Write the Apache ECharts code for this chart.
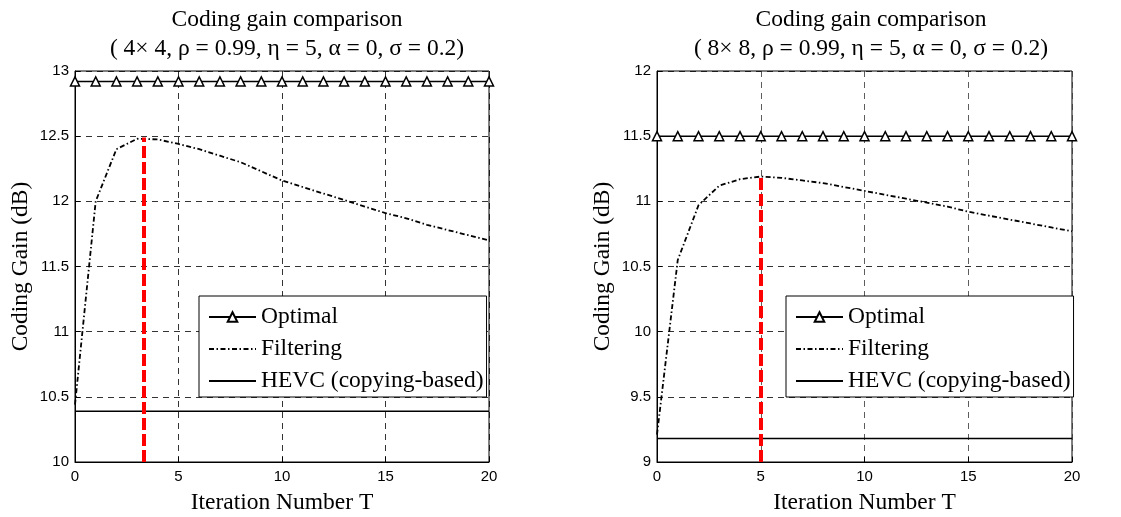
<!DOCTYPE html>
<html><head><meta charset="utf-8">
<script src="https://cdn.jsdelivr.net/npm/echarts@6/dist/echarts.min.js"></script>
<style>html,body{margin:0;padding:0;background:#fff}#c{width:1121px;height:517px}</style>
</head><body><div id="c"></div>
<script>
const iterT = [0,1,2,3,4,5,6,7,8,9,10,11,12,13,14,15,16,17,18,19,20];
const optimalL = [12.92,12.92,12.92,12.92,12.92,12.92,12.92,12.92,12.92,12.92,12.92,12.92,12.92,12.92,12.92,12.92,12.92,12.92,12.92,12.92,12.92];
const filteringL = [10.44,12.0,12.40,12.48,12.475,12.44,12.40,12.35,12.30,12.23,12.16,12.11,12.06,12.01,11.96,11.91,11.87,11.82,11.78,11.74,11.70];
const hevcL = [10.39,10.39,10.39,10.39,10.39,10.39,10.39,10.39,10.39,10.39,10.39,10.39,10.39,10.39,10.39,10.39,10.39,10.39,10.39,10.39,10.39];
const optimalR = [11.5,11.5,11.5,11.5,11.5,11.5,11.5,11.5,11.5,11.5,11.5,11.5,11.5,11.5,11.5,11.5,11.5,11.5,11.5,11.5,11.5];
const filteringR = [9.21,10.55,10.97,11.12,11.17,11.19,11.18,11.16,11.14,11.11,11.08,11.05,11.02,10.99,10.96,10.92,10.89,10.86,10.83,10.80,10.77];
const hevcR = [9.18,9.18,9.18,9.18,9.18,9.18,9.18,9.18,9.18,9.18,9.18,9.18,9.18,9.18,9.18,9.18,9.18,9.18,9.18,9.18,9.18];
const peakT = [3.3, 5];
const peakVal = [12.49, 11.2];
const yMin = [10, 9];
const yMax = [13, 12];
const titleLine1 = 'Coding gain comparison';
const titleLine2 = ['( 4× 4, ρ = 0.99, η = 5, α = 0, σ = 0.2)', '( 8× 8, ρ = 0.99, η = 5, α = 0, σ = 0.2)'];
const seriesNames = ['Optimal', 'Filtering', 'HEVC (copying-based)'];

const serif = '"Liberation Serif","Times New Roman",serif';
const sans = '"Liberation Sans",Arial,sans-serif';
const serifSize = 23.5;
const zip = (a) => iterT.map((t, i) => [t, a[i]]);

const grids = [
  {left: 75, top: 71, width: 414, height: 391, show: true, borderColor: '#000', borderWidth: 1, outerBoundsMode: 'none', containLabel: false},
  {left: 657, top: 71, width: 415, height: 391, show: true, borderColor: '#000', borderWidth: 1, outerBoundsMode: 'none', containLabel: false}
];
const centers = [282, 866];
const gridColor = ['#000', '#333'];

function xAx(i) {
  return {type: 'value', gridIndex: i, min: 0, max: 20, interval: 5,
    name: 'Iteration Number T', nameLocation: 'middle', nameGap: 29,
    nameTextStyle: {fontFamily: serif, fontSize: serifSize, color: '#000'},
    axisLine: {show: true, lineStyle: {color: '#000', width: 1}},
    axisTick: {show: true, inside: true, length: 5, lineStyle: {color: '#000'}},
    axisLabel: {fontFamily: sans, fontSize: 15, color: '#000', margin: 7},
    splitLine: {show: true, lineStyle: {color: gridColor[i], type: [6, 5], width: 0.8}}};
}
function yAx(i) {
  return {type: 'value', gridIndex: i, min: yMin[i], max: yMax[i], interval: 0.5,
    name: 'Coding Gain (dB)', nameLocation: 'middle', nameGap: 42,
    nameTextStyle: {fontFamily: serif, fontSize: serifSize, color: '#000'},
    axisLine: {show: true, lineStyle: {color: '#000', width: 1}},
    axisTick: {show: true, inside: true, length: 5, lineStyle: {color: '#000'}},
    axisLabel: {fontFamily: sans, fontSize: 15, color: '#000', margin: 6, formatter: (v) => String(+v.toFixed(1))},
    splitLine: {show: true, lineStyle: {color: '#000', type: [6, 5], width: 0.8}}};
}

const data = [[optimalL, filteringL, hevcL], [optimalR, filteringR, hevcR]];
const series = [];
const invisibleItem = {color: 'rgba(0,0,0,0)', borderWidth: 0, borderColor: 'rgba(0,0,0,0)'};
[0, 1].forEach(i => {
  series.push({name: seriesNames[0], type: 'line', xAxisIndex: i, yAxisIndex: i, data: zip(data[i][0]),
    symbol: 'triangle', symbolSize: 9, showSymbol: true,
    itemStyle: {color: '#fff', borderColor: '#000', borderWidth: 1.5},
    lineStyle: {color: '#000', width: 1.5}, z: 4, animation: false});
  series.push({name: seriesNames[1], type: 'line', xAxisIndex: i, yAxisIndex: i, data: zip(data[i][1]),
    symbol: 'none', itemStyle: invisibleItem,
    lineStyle: {color: '#000', width: 1.8, type: [5, 2.5, 1.5, 2.5]}, z: 3, animation: false,
    markLine: {silent: true, symbol: 'none', label: {show: false}, animation: false,
      lineStyle: {color: '#ff0000', width: 4, type: [12, 4]},
      data: [[{coord: [peakT[i], yMin[i]]}, {coord: [peakT[i], peakVal[i]]}]]}});
  series.push({name: seriesNames[2], type: 'line', xAxisIndex: i, yAxisIndex: i, data: zip(data[i][2]),
    symbol: 'none', itemStyle: invisibleItem,
    lineStyle: {color: '#000', width: 1.5}, z: 3, animation: false});
});

const titles = [];
[0, 1].forEach(i => {
  titles.push({text: titleLine1, left: centers[i], top: 3, textAlign: 'center',
    textStyle: {fontFamily: serif, fontSize: serifSize, fontWeight: 'normal', color: '#000'}});
  titles.push({text: titleLine2[i], left: centers[i], top: 32, textAlign: 'center',
    textStyle: {fontFamily: serif, fontSize: serifSize, fontWeight: 'normal', color: '#000'}});
});

const legendBase = {orient: 'vertical', top: 296, itemWidth: 47, itemHeight: 12, itemGap: 8,
  padding: [9, 3, 4, 9], borderColor: '#000', borderWidth: 1, backgroundColor: '#fff',
  textStyle: {fontFamily: serif, fontSize: serifSize, color: '#000'}, data: seriesNames, selectedMode: false};

const chart = echarts.init(document.getElementById('c'), null, {renderer: 'canvas'});
chart.setOption({
  animation: false,
  backgroundColor: '#fff',
  title: titles,
  grid: grids,
  xAxis: [xAx(0), xAx(1)],
  yAxis: [yAx(0), yAx(1)],
  legend: [Object.assign({}, legendBase, {left: 199}), Object.assign({}, legendBase, {left: 786})],
  series: series
});
</script></body></html>
